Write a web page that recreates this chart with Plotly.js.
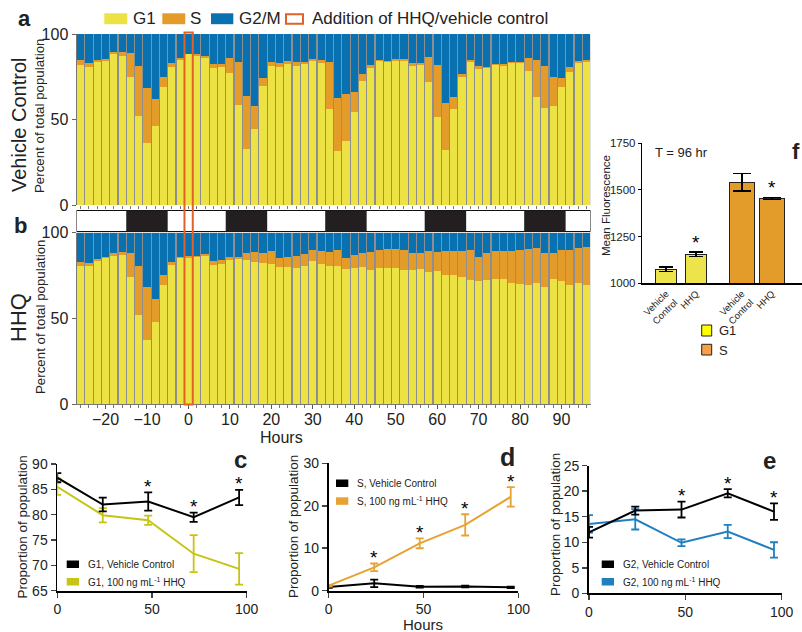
<!DOCTYPE html>
<html><head><meta charset="utf-8">
<script src="https://cdn.plot.ly/plotly-3.0.1.min.js"></script>
<style>html,body{margin:0;padding:0;background:#fff}#chart{width:802px;height:632px}</style>
</head><body><div id="chart"></div>
<script>
// ---------- DATA ----------
const hours = [-26,-24,-22,-20,-18,-16,-14,-12,-10,-8,-6,-4,-2,0,2,4,6,8,10,12,14,16,18,20,22,24,26,28,30,32,34,36,38,40,42,44,46,48,50,52,54,56,58,60,62,64,66,68,70,72,74,76,78,80,82,84,86,88,90,92,94,96];

// Panel a: Vehicle Control (% of total population)
const vcG1  = [81.9,80.9,83.6,84.2,88.1,87.3,74.9,51.9,36.3,46.4,69.2,80.9,84.8,88.1,87.1,86.2,80.3,80.9,77.0,58.5,32.7,44.2,69.6,81.3,80.5,82.3,81.5,82.6,84.2,82.8,56.3,31.8,37.4,54.2,72.7,80.1,84.0,83.4,84.4,84.4,81.3,81.9,72.1,51.3,32.2,56.3,74.9,83.8,79.3,80.1,81.7,81.5,82.8,83.2,78.6,63.2,56.7,58.1,69.2,77.8,83.2,83.8];
const vcS   = [2.7,2.3,1.0,1.0,1.2,2.0,14.0,29.4,32.1,15.8,5.5,2.1,1.4,0.4,1.0,0.9,2.4,1.8,8.8,25.3,31.0,13.9,4.7,2.3,2.3,1.7,1.9,1.3,1.0,1.8,27.1,31.0,27.3,12.1,3.9,1.6,0.8,0.6,0.8,0.8,1.5,0.9,14.6,30.8,27.3,6.7,1.7,0.8,2.2,0.8,0.8,0.8,0.6,0.6,7.6,21.4,24.8,16.8,5.3,2.7,1.0,0.8];
const vcG2M = [15.4,16.8,15.4,14.8,10.7,10.7,11.1,18.7,31.6,37.8,25.3,17.0,13.8,11.5,11.9,12.9,17.3,17.3,14.2,16.2,36.3,41.9,25.7,16.4,17.2,16.0,16.6,16.1,14.8,15.4,16.6,37.2,35.3,33.7,23.4,18.3,15.2,16.0,14.8,14.8,17.2,17.2,13.3,17.9,40.5,37.0,23.4,15.4,18.5,19.1,17.5,17.7,16.6,16.2,13.8,15.4,18.5,25.1,25.5,19.5,15.8,15.4];

// Panel b: HHQ (% of total population)
const hhqG1  = [80.6,80.6,83.7,85.2,86.4,86.8,74.0,51.7,37.7,47.8,69.7,81.2,85.0,85.4,85.8,86.2,80.8,81.7,83.9,84.3,83.9,82.7,82.1,81.9,80.0,80.0,79.4,80.4,83.3,81.6,80.4,80.4,78.6,79.6,79.8,78.4,79.2,79.2,79.2,78.3,78.3,78.6,77.1,77.7,75.1,75.1,74.0,72.6,71.5,72.4,73.2,73.0,70.7,70.3,69.5,70.5,68.3,72.8,71.7,69.3,70.7,69.3];
const hhqS   = [2.3,1.5,0.8,0.6,1.4,1.9,13.8,28.9,30.8,13.4,5.3,1.5,0.8,0.8,0.6,1.2,2.5,2.2,1.7,1.7,3.9,6.0,6.2,7.4,4.9,5.8,7.0,6.8,6.4,7.7,8.1,9.3,6.6,7.2,8.5,10.3,10.7,11.1,11.1,11.6,9.5,9.6,12.0,11.0,14.0,14.4,15.1,17.3,14.1,15.8,16.1,16.1,18.6,19.4,20.8,20.6,19.5,15.4,18.4,20.4,20.0,22.2];
const hhqG2M = [17.1,17.9,15.5,14.2,12.2,11.3,12.2,19.4,31.5,38.8,25.0,17.3,14.2,13.8,13.6,12.6,16.7,16.1,14.4,14.0,12.2,11.3,11.7,10.7,15.1,14.2,13.6,12.8,10.3,10.7,11.5,10.3,14.8,13.2,11.7,11.3,10.1,9.7,9.7,10.1,12.2,11.8,10.9,11.3,10.9,10.5,10.9,10.1,14.4,11.8,10.7,10.9,10.7,10.3,9.7,8.9,12.2,11.8,9.9,10.3,9.3,8.5];

// Light/dark cycle (start hour of each dark period) and addition time
const darkStarts = [-15, 9, 33, 57, 81];
const darkLength = 10;
const additionHour = 0;

// Panels c, d, e: time course (hours) and proportions
const tcHours = [0, 24, 48, 72, 96];
const g1Vehicle = [87.3, 82.0, 82.6, 79.5, 83.4];
const g1VehicleErr = [0.9, 1.35, 1.8, 0.9, 1.5];
const g1HHQ = [85.5, 79.9, 78.9, 72.3, 69.3];
const g1HHQErr = [1.6, 1.4, 0.9, 3.65, 3.1];
const g1Sig = [false, false, true, true, true];

const sVehicle = [0.86, 1.73, 0.94, 1.0, 0.79];
const sVehicleErr = [0.2, 0.9, 0.2, 0.2, 0.15];
const sHHQ = [1.18, 5.5, 11.15, 15.5, 22.1];
const sHHQErr = [0.2, 0.9, 1.15, 2.5, 2.3];
const sSig = [false, true, true, true, true];

const g2Vehicle = [11.95, 16.2, 16.4, 19.6, 16.0];
const g2VehicleErr = [1.05, 0.8, 1.55, 0.8, 1.6];
const g2HHQ = [13.6, 14.5, 9.9, 12.1, 8.5];
const g2HHQErr = [1.7, 2.0, 0.65, 1.3, 1.5];
const g2Sig = [false, false, true, true, true];

// Panel f: mean fluorescence at T = 96 hr
const fluorCategories = ['Vehicle<br>Control', 'HHQ'];
const fluorG1 = [1075, 1155];
const fluorG1Err = [12, 12];
const fluorS = [1541, 1455];
const fluorSErr = [48, 5];
const fluorSig = [false, true];

// ---------- STYLE ----------
const FONT = 'Liberation Sans, Arial, Helvetica, sans-serif';
const YEL = '#ECE244', ORA = '#E39C2A', BLU = '#0A71B0';
const W = 802, H = 632;
const px = v => v / W;
const py = v => (H - v) / H;
const TXT = '#222';
const F_BASE = 1000;

const traces = [];
function stack(g1, s, g2, xa, ya) {
  [[g1, YEL, 'G1'], [s, ORA, 'S'], [g2, BLU, 'G2/M']].forEach(([vals, col, nm]) => {
    traces.push({type: 'bar', x: hours, y: vals, name: nm, marker: {color: col, line: {width: 0}},
      xaxis: xa, yaxis: ya, showlegend: false, hoverinfo: 'skip'});
  });
}
stack(vcG1, vcS, vcG2M, 'x', 'y');
stack(hhqG1, hhqS, hhqG2M, 'x2', 'y2');

// Panel f bars (drawn from the axis floor of 1000)
const fStride = 2.53;
const fxG1 = fluorCategories.map((c, i) => i);
const fxS = fluorCategories.map((c, i) => fStride + i);
traces.push({type: 'bar', x: fxG1, y: fluorG1.map(v => v - F_BASE), base: F_BASE, width: 0.72, name: 'G1',
  marker: {color: '#EDE34A', line: {color: '#222', width: 1}},
  error_y: {type: 'data', array: fluorG1Err, color: '#000', thickness: 1.6, width: 7},
  xaxis: 'x3', yaxis: 'y3', showlegend: false, hoverinfo: 'skip'});
traces.push({type: 'bar', x: fxS, y: fluorS.map(v => v - F_BASE), base: F_BASE, width: 0.85, name: 'S',
  marker: {color: '#E39C2A', line: {color: '#222', width: 1}},
  error_y: {type: 'data', array: fluorSErr, color: '#000', thickness: 1.6, width: 9},
  xaxis: 'x3', yaxis: 'y3', showlegend: false, hoverinfo: 'skip'});

function line(y, err, col, xa, ya, nm) {
  traces.push({type: 'scatter', mode: 'lines', x: tcHours, y: y, name: nm,
    line: {color: col, width: 2},
    error_y: {type: 'data', array: err, color: col, thickness: 1.8, width: 4},
    xaxis: xa, yaxis: ya, cliponaxis: false, showlegend: false, hoverinfo: 'skip'});
}
const C_G1 = '#C6C414', C_S = '#E8A232', C_G2 = '#1F7FC0';
line(g1HHQ, g1HHQErr, C_G1, 'x4', 'y4', 'G1, 100 ng mL-1 HHQ');
line(g1Vehicle, g1VehicleErr, '#000', 'x4', 'y4', 'G1, Vehicle Control');
line(sVehicle, sVehicleErr, '#000', 'x5', 'y5', 'S, Vehicle Control');
line(sHHQ, sHHQErr, C_S, 'x5', 'y5', 'S, 100 ng mL-1 HHQ');
line(g2HHQ, g2HHQErr, C_G2, 'x6', 'y6', 'G2, 100 ng mL-1 HHQ');
line(g2Vehicle, g2VehicleErr, '#000', 'x6', 'y6', 'G2, Vehicle Control');

// ---------- SHAPES & ANNOTATIONS ----------
const shapes = [];
const ann = [];
function txt(x, y, text, size, opts) {
  ann.push(Object.assign({xref: 'paper', yref: 'paper', x: px(x), y: py(y), text: text, showarrow: false,
    font: {family: FONT, size: size, color: TXT}, xanchor: 'center', yanchor: 'middle'}, opts || {}));
}
function rectPx(x0, y0, x1, y1, fill, lineCol, lw) {
  shapes.push({type: 'rect', xref: 'paper', yref: 'paper', x0: px(x0), x1: px(x1), y0: py(y1), y1: py(y0),
    fillcolor: fill, line: {color: lineCol || fill, width: lw === undefined ? 0 : lw}});
}

// grey gaps behind bars
[['x', 'y'], ['x2', 'y2']].forEach(([xa, ya]) => {
  shapes.push({type: 'rect', xref: xa, yref: ya, x0: -27, x1: 97, y0: 0, y1: 100,
    fillcolor: '#8e8e8e', line: {width: 0}, layer: 'below'});
});

// light/dark bar
shapes.push({type: 'rect', xref: 'x', yref: 'paper', x0: -27, x1: 97, y0: py(231.5), y1: py(210.5),
  fillcolor: '#fff', line: {color: '#111', width: 1}});
darkStarts.forEach(s => shapes.push({type: 'rect', xref: 'x', yref: 'paper', x0: s, x1: s + darkLength,
  y0: py(231.5), y1: py(210.5), fillcolor: '#231F20', line: {width: 0}}));

// addition box
shapes.push({type: 'rect', xref: 'x', yref: 'paper', x0: additionHour - 0.95, x1: additionHour + 1.05,
  y0: py(404.5), y1: py(32.5), fillcolor: 'rgba(0,0,0,0)', line: {color: '#E0622A', width: 2}});

// top legend
rectPx(104.3, 13.3, 127.3, 24.2, YEL);
txt(131, 18.8, 'G1', 17, {xanchor: 'left'});
rectPx(162.3, 13.3, 185.3, 24.2, ORA);
txt(188, 18.8, 'S', 17, {xanchor: 'left'});
rectPx(211, 13.3, 233.3, 24.2, BLU);
txt(237, 18.8, 'G2/M', 17, {xanchor: 'left'});
rectPx(286, 14.3, 303, 23.7, '#fff', '#E0622A', 2);
txt(310, 18.8, 'Addition of HHQ/vehicle control', 17, {xanchor: 'left'});

// panel letters
txt(24, 18, '<b>a</b>', 22);
txt(20, 225, '<b>b</b>', 22);
txt(240, 459, '<b>c</b>', 24);
txt(507.5, 457, '<b>d</b>', 25);
txt(769, 460, '<b>e</b>', 24);
txt(796, 152, '<b>f</b>', 22);

// y titles panels a, b
txt(19, 125, 'Vehicle Control', 20, {textangle: -90});
txt(40, 116, 'Percent of total population', 13.3, {textangle: -90});
txt(18, 318, 'HHQ', 22, {textangle: -90});
txt(40, 317, 'Percent of total population', 13.3, {textangle: -90});
txt(281, 438, 'Hours', 16);

// panel f text
txt(681, 153, 'T = 96 hr', 13);
txt(606, 206, 'Mean Fluorescence', 11.5, {textangle: -90});
rectPx(701.7, 325, 711.7, 336, '#FFFF00', '#222', 1);
txt(717, 330.5, 'G1', 13, {xanchor: 'left'});
rectPx(701.7, 344.3, 711.7, 355, '#F8A048', '#222', 1);
txt(717, 350, 'S', 13, {xanchor: 'left'});
fluorSig.forEach((sig, i) => {
  if (sig) {
    ann.push({xref: 'x3', yref: 'y3', x: fxG1[i], y: fluorG1[i] + fluorG1Err[i], text: '*', showarrow: false,
      yanchor: 'middle', yshift: 10, font: {family: FONT, size: 19, color: '#000'}});
    ann.push({xref: 'x3', yref: 'y3', x: fxS[i], y: fluorS[i] + fluorSErr[i], text: '*', showarrow: false,
      yanchor: 'middle', yshift: 10, font: {family: FONT, size: 19, color: '#000'}});
  }
});

// panels c,d,e titles & legends
txt(22, 527.5, 'Proportion of population', 13.5, {textangle: -90});
txt(293.5, 526.5, 'Proportion of population', 13.5, {textangle: -90});
txt(555, 525, 'Proportion of population', 13.5, {textangle: -90});
txt(423.3, 624, 'Hours', 15);

rectPx(66.7, 560.5, 79, 568, '#000');
txt(86, 564.3, 'G1, Vehicle Control', 10, {xanchor: 'left'});
rectPx(66.7, 578, 79, 585.5, C_G1);
txt(86, 581.7, 'G1, 100 ng mL<sup>-1</sup> HHQ', 10, {xanchor: 'left'});

rectPx(336, 479.5, 348.3, 487, '#000');
txt(355, 483.3, 'S, Vehicle Control', 10, {xanchor: 'left'});
rectPx(336, 497.3, 348.3, 504.8, C_S);
txt(355, 501, 'S, 100 ng mL<sup>-1</sup> HHQ', 10, {xanchor: 'left'});

rectPx(601.7, 560.5, 614, 568, '#000');
txt(621, 564.3, 'G2, Vehicle Control', 10, {xanchor: 'left'});
rectPx(601.7, 578, 614, 585.5, C_G2);
txt(621, 581.7, 'G2, 100 ng mL<sup>-1</sup> HHQ', 10, {xanchor: 'left'});

function stars(sig, a, ae, b, be, xa, ya) {
  sig.forEach((s, i) => {
    if (!s) return;
    const top = Math.max(a[i] + ae[i], b[i] + be[i]);
    ann.push({xref: xa, yref: ya, x: tcHours[i], y: top, text: '*', showarrow: false,
      yanchor: 'middle', yshift: 6, font: {family: FONT, size: 19, color: '#000'}});
  });
}
stars(g1Sig, g1Vehicle, g1VehicleErr, g1HHQ, g1HHQErr, 'x4', 'y4');
stars(sSig, sVehicle, sVehicleErr, sHHQ, sHHQErr, 'x5', 'y5');
stars(g2Sig, g2Vehicle, g2VehicleErr, g2HHQ, g2HHQErr, 'x6', 'y6');

// ---------- AXES ----------
const tf = s => ({family: FONT, size: s, color: TXT});
const base = {showgrid: false, zeroline: false, fixedrange: true};
const xDom = [px(76.5), px(590.5)];

const layout = {
  width: W, height: H, margin: {l: 0, r: 0, t: 0, b: 0, pad: 0},
  paper_bgcolor: '#fff', plot_bgcolor: 'rgba(0,0,0,0)',
  barmode: 'stack', bargap: 0.14, showlegend: false,
  font: {family: FONT, color: TXT},
  xaxis: Object.assign({}, base, {domain: xDom, range: [-27, 97], anchor: 'y', showticklabels: false,
    ticks: 'outside', tick0: 0, dtick: 2, ticklen: 3, tickcolor: '#777', showline: false}),
  yaxis: Object.assign({}, base, {domain: [py(205), py(34)], range: [0, 100], anchor: 'x', tickvals: [0, 50, 100],
    ticks: 'outside', ticklen: 4, tickcolor: '#666', showline: true, linecolor: '#777', linewidth: 1, tickfont: tf(16)}),
  xaxis2: Object.assign({}, base, {domain: xDom, range: [-27, 97], anchor: 'y2', matches: 'x',
    tickvals: [-20, -10, 0, 10, 20, 30, 40, 50, 60, 70, 80, 90], ticks: 'outside', ticklen: 4, tickcolor: '#555',
    ticklabelstandoff: -4,
    minor: {tick0: 0, dtick: 2, ticks: 'outside', ticklen: 3, tickcolor: '#777'},
    showline: true, linecolor: '#777', linewidth: 1, tickfont: tf(16)}),
  yaxis2: Object.assign({}, base, {domain: [py(404.3), py(232.5)], range: [0, 100], anchor: 'x2', tickvals: [0, 50, 100],
    ticks: 'outside', ticklen: 4, tickcolor: '#666', showline: true, linecolor: '#777', linewidth: 1, tickfont: tf(16)}),
  xaxis3: Object.assign({}, base, {domain: [px(642), 1], range: [-0.8, 4.53], anchor: 'y3',
    tickvals: fxG1.concat(fxS), ticktext: fluorCategories.concat(fluorCategories), tickangle: -45,
    ticks: '', showline: true, linecolor: '#000', linewidth: 1.2, tickfont: tf(9.5)}),
  yaxis3: Object.assign({}, base, {domain: [py(283.3), py(143.3)], range: [1000, 1750], anchor: 'x3',
    tickvals: [1000, 1250, 1500, 1750], ticks: 'outside', ticklen: 3, tickcolor: '#000',
    showline: true, linecolor: '#000', linewidth: 1.2, tickfont: tf(11.5)}),
  xaxis4: Object.assign({}, base, {domain: [px(57.3), px(246.7)], range: [0, 100], anchor: 'y4',
    tickvals: [0, 50, 100], ticks: 'outside', ticklen: 5, tickwidth: 1.5, showline: true, linecolor: '#000', linewidth: 1.8, tickfont: tf(14)}),
  yaxis4: Object.assign({}, base, {domain: [py(590.7), py(464)], range: [65, 90], anchor: 'x4',
    tickvals: [65, 70, 75, 80, 85, 90], ticks: 'outside', ticklen: 5, tickwidth: 1.5, showline: true, linecolor: '#000', linewidth: 1.8, tickfont: tf(14)}),
  xaxis5: Object.assign({}, base, {domain: [px(328.7), px(518.3)], range: [0, 100], anchor: 'y5',
    tickvals: [0, 50, 100], ticks: 'outside', ticklen: 5, tickwidth: 1.5, showline: true, linecolor: '#000', linewidth: 1.8, tickfont: tf(14)}),
  yaxis5: Object.assign({}, base, {domain: [py(590.7), py(463.3)], range: [0, 30], anchor: 'x5',
    tickvals: [0, 10, 20, 30], ticks: 'outside', ticklen: 5, tickwidth: 1.5, showline: true, linecolor: '#000', linewidth: 1.8, tickfont: tf(14)}),
  xaxis6: Object.assign({}, base, {domain: [px(589), px(781.7)], range: [0, 100], anchor: 'y6',
    tickvals: [0, 50, 100], ticks: 'outside', ticklen: 5, tickwidth: 1.5, showline: true, linecolor: '#000', linewidth: 1.8, tickfont: tf(14)}),
  yaxis6: Object.assign({}, base, {domain: [py(593.3), py(465.7)], range: [0, 25], anchor: 'x6',
    tickvals: [0, 5, 10, 15, 20, 25], ticks: 'outside', ticklen: 5, tickwidth: 1.5, showline: true, linecolor: '#000', linewidth: 1.8, tickfont: tf(14)}),
  shapes: shapes,
  annotations: ann
};

Plotly.newPlot('chart', traces, layout, {displayModeBar: false, staticPlot: true});
</script></body></html>
